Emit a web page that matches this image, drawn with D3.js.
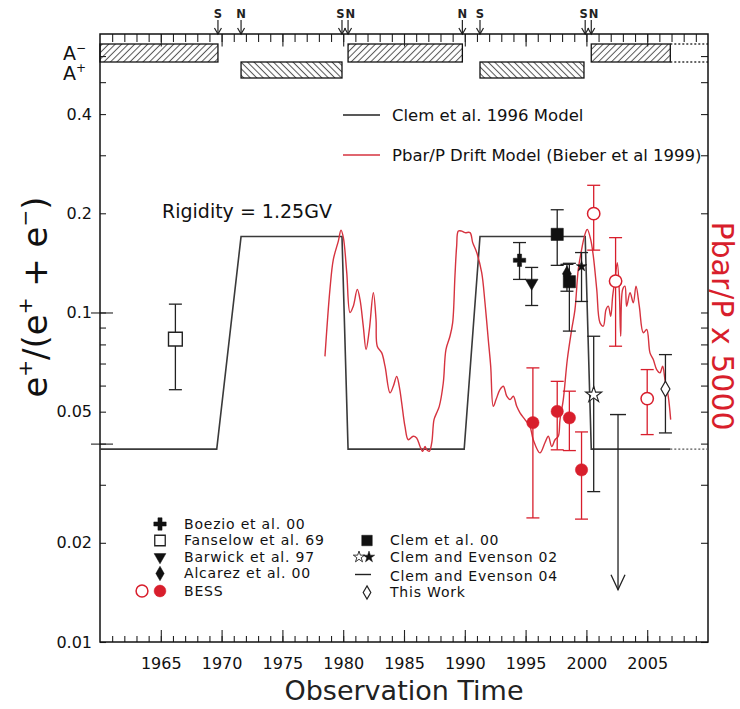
<!DOCTYPE html>
<html>
<head>
<meta charset="utf-8">
<script src="https://cdn.jsdelivr.net/npm/d3@7"></script>
<style>
  body { margin: 0; background: #fff; }
  svg { display: block; font-family: "DejaVu Sans", sans-serif; }
</style>
</head>
<body>
<svg id="chart" width="740" height="709"></svg>
<script>
// ---------- data ----------
const yearTicks = [1965, 1970, 1975, 1980, 1985, 1990, 1995, 2000, 2005];
const yTickValues = [0.01, 0.02, 0.03, 0.04, 0.05, 0.06, 0.07, 0.08, 0.09, 0.1, 0.2, 0.3, 0.4, 0.5, 0.6];
const yLabelValues = [0.01, 0.02, 0.05, 0.1, 0.2, 0.4];
const yLongTicks = [0.04, 0.1];

// Clem et al. 1996 model (step between polarity epochs)
const modelYears  = [1960, 1969.6, 1971.6, 1979.9, 1980.4, 1989.95, 1991.25, 1999.9, 2000.4, 2006.9];
const modelValues = [0.0385, 0.0385, 0.17, 0.17, 0.0385, 0.0385, 0.17, 0.17, 0.0385, 0.0385];
const modelExtYears  = [2006.9, 2010];
const modelExtValues = [0.0385, 0.0385];

// Pbar/P drift model (Bieber et al 1999), x 5000
const driftYears = [1978.50, 1978.91, 1979.19, 1979.60, 1979.82, 1980.01, 1980.29, 1980.56, 1980.83, 1981.16,
  1981.38, 1981.65, 1981.88, 1982.15, 1982.48, 1982.70, 1982.80, 1983.17, 1983.44, 1983.85,
  1984.12, 1984.40, 1984.61, 1984.81, 1985.08, 1985.35, 1985.76, 1986.04, 1986.32, 1986.54,
  1986.73, 1986.87, 1987.08, 1987.28, 1987.47, 1987.69, 1987.90, 1988.23, 1988.45, 1988.78,
  1989.00, 1989.19, 1989.33, 1989.47, 1989.75, 1990.02, 1990.43, 1990.65, 1990.98, 1991.39,
  1991.66, 1991.93, 1992.13, 1992.34, 1992.57, 1992.89, 1993.17, 1993.45, 1993.72, 1993.99,
  1994.27, 1994.54, 1994.95, 1995.36, 1995.63, 1996.18, 1996.60, 1996.87, 1997.15, 1997.42,
  1997.69, 1997.83, 1998.10, 1998.43, 1998.79, 1999.06, 1999.33, 1999.61, 1999.88, 2000.07,
  2000.35, 2000.57, 2000.85, 2001.12, 2001.39, 2001.61, 2001.80, 2002.00, 2002.16, 2002.35,
  2002.54, 2002.71, 2002.82, 2002.98, 2003.17, 2003.31, 2003.59, 2003.86, 2004.08, 2004.35,
  2004.68, 2004.96, 2005.23, 2005.50, 2005.78, 2006.05, 2006.27, 2006.46, 2006.73, 2006.93];
const driftValues = [0.0736, 0.1175, 0.1449, 0.1647, 0.1778, 0.169, 0.1323, 0.100, 0.1045, 0.1175,
  0.1095, 0.0909, 0.0772, 0.0888, 0.1148, 0.0952, 0.079, 0.0754, 0.0687, 0.057,
  0.0597, 0.064, 0.0597, 0.0532, 0.0451, 0.0411, 0.0421, 0.0416, 0.0392, 0.0379,
  0.0392, 0.0383, 0.0379, 0.0402, 0.0473, 0.0496, 0.0519, 0.0611, 0.0772, 0.0847,
  0.093, 0.129, 0.159, 0.1766, 0.1766, 0.1747, 0.1747, 0.1629, 0.152, 0.132,
  0.107, 0.0828, 0.0687, 0.0519, 0.0544, 0.0583, 0.0597, 0.0557, 0.0544, 0.0557,
  0.0519, 0.0496, 0.0473, 0.0451, 0.0411, 0.0375, 0.0403, 0.0421, 0.0392, 0.0411,
  0.0421, 0.0473, 0.0544, 0.072, 0.0888, 0.102, 0.135, 0.1554, 0.1726, 0.1787,
  0.1667, 0.1483, 0.1175, 0.093, 0.0909, 0.102, 0.1045, 0.0974, 0.1121, 0.126,
  0.1416, 0.1148, 0.0847, 0.1175, 0.1202, 0.1045, 0.1148, 0.107, 0.1202, 0.1045,
  0.0868, 0.0888, 0.0754, 0.072, 0.0671, 0.0656, 0.0687, 0.0626, 0.0557, 0.0473];

// measurements: year, value, low, high
const fanselowYears = [1966.2], fanselowValues = [0.083], fanselowLo = [0.0583], fanselowHi = [0.106];
const boezioYears = [1994.5], boezioValues = [0.144], boezioLo = [0.126], boezioHi = [0.163];
const barwickYears = [1995.5], barwickValues = [0.123], barwickLo = [0.105], barwickHi = [0.137];
const alcarazYears = [1998.4], alcarazValues = [0.131], alcarazLo = [0.116], alcarazHi = [0.14];
const clemYears = [1997.6, 1998.6], clemValues = [0.1726, 0.124], clemLo = [0.139, 0.0878], clemHi = [0.205, 0.141];
const ce02FilledYears = [1999.6], ce02FilledValues = [0.138], ce02FilledLo = [0.108], ce02FilledHi = [0.152];
const ce02OpenYears = [2000.6], ce02OpenValues = [0.0563], ce02OpenLo = [0.0286], ce02OpenHi = [0.0847];
const ce04Years = [2002.6], ce04Limits = [0.049], ce04ArrowTo = [0.0144];
const thisWorkYears = [2006.5], thisWorkValues = [0.0586], thisWorkLo = [0.0431], thisWorkHi = [0.0745];
const bessOpenYears = [2000.6, 2002.4, 2005.0], bessOpenValues = [0.1995, 0.1245, 0.0548],
      bessOpenLo = [0.1546, 0.079, 0.0426], bessOpenHi = [0.2432, 0.1687, 0.0671];
const bessFilledYears = [1995.6, 1997.6, 1998.6, 1999.6], bessFilledValues = [0.0463, 0.0501, 0.0479, 0.0333],
      bessFilledLo = [0.0238, 0.0383, 0.0381, 0.0236], bessFilledHi = [0.0679, 0.0618, 0.0577, 0.0434];

// solar magnetic polarity epochs and field reversals
const aMinusStart = [1960, 1980.4, 2000.4], aMinusEnd = [1969.7, 1989.8, 2006.9];
const aMinusOpenEnd = 2010;
const aPlusStart = [1971.6, 1991.25], aPlusEnd = [1979.9, 1999.8];
const reversalYears = [1969.7, 1971.6, 1979.9, 1980.4, 1989.8, 1991.25, 1999.9, 2000.4];
const reversalLabels = ["S", "N", "S", "N", "N", "S", "S", "N"];

// ---------- layout ----------
const W = 740, H = 709;
const margin = { top: 34, right: 32, bottom: 67, left: 100 };
const RED = "#d81e2c", CURVE = "#d6333f";

const svg = d3.select("#chart");
const x = d3.scaleLinear().domain([1960, 2010]).range([margin.left, W - margin.right]);
const y = d3.scaleLog().domain([0.01, 0.7]).range([H - margin.bottom, margin.top]);
const [x0, x1] = x.range();
const [yB, yT] = y.range();

// hatch fills for the polarity bars
const defs = svg.append("defs");
function hatch(id, angle) {
  const s = 4.6;
  const p = defs.append("pattern").attr("id", id).attr("patternUnits", "userSpaceOnUse")
    .attr("width", s).attr("height", s).attr("patternTransform", `rotate(${angle})`);
  p.append("rect").attr("width", s).attr("height", s).attr("fill", "#fff");
  p.append("line").attr("x1", s / 2).attr("x2", s / 2).attr("y1", 0).attr("y2", s)
    .attr("stroke", "#555").attr("stroke-width", 1);
}
hatch("hatchMinus", 45);
hatch("hatchPlus", -45);

// ---------- polarity strip ----------
const strip = svg.append("g");
const minusTop = 44, minusBot = 62, plusTop = 62, plusBot = 78;
strip.selectAll("rect.minus").data(aMinusStart).join("rect").attr("class", "minus")
  .attr("x", (d) => x(d)).attr("width", (d, i) => x(aMinusEnd[i]) - x(d))
  .attr("y", minusTop).attr("height", minusBot - minusTop)
  .attr("fill", "url(#hatchMinus)").attr("stroke", "#111").attr("stroke-width", 1.3);
strip.selectAll("rect.plus").data(aPlusStart).join("rect").attr("class", "plus")
  .attr("x", (d) => x(d)).attr("width", (d, i) => x(aPlusEnd[i]) - x(d))
  .attr("y", plusTop).attr("height", plusBot - plusTop)
  .attr("fill", "url(#hatchPlus)").attr("stroke", "#111").attr("stroke-width", 1.3);
[minusTop, minusBot].forEach((yy) => {
  strip.append("line").attr("x1", x(aMinusEnd[aMinusEnd.length - 1])).attr("x2", x(aMinusOpenEnd))
    .attr("y1", yy).attr("y2", yy).attr("stroke", "#333").attr("stroke-width", 1.6)
    .attr("stroke-dasharray", "2,2");
});

// polarity labels
function polLabel(yBase, sign) {
  const t = svg.append("text").attr("x", 63).attr("y", yBase).attr("font-size", 19).attr("fill", "#111");
  t.append("tspan").text("A");
  t.append("tspan").attr("dy", -8).attr("font-size", 12).text(sign);
}
polLabel(60, "\u2212");
polLabel(80, "+");

// reversal arrows; close pairs are printed side by side ("SN")
const rev = svg.append("g");
reversalYears.forEach((yr, i) => {
  const xx = x(yr);
  rev.append("line").attr("x1", xx).attr("x2", xx).attr("y1", 20).attr("y2", yT)
    .attr("stroke", "#222").attr("stroke-width", 1.2);
  rev.append("path").attr("d", `M${xx - 3.5},${yT - 6}L${xx},${yT}L${xx + 3.5},${yT - 6}`)
    .attr("fill", "none").attr("stroke", "#222").attr("stroke-width", 1.2);
  const next = i < reversalYears.length - 1 ? x(reversalYears[i + 1]) : Infinity;
  const prev = i > 0 ? x(reversalYears[i - 1]) : -Infinity;
  let tx = xx, anchor = "middle";
  if (next - xx < 12) { tx = (xx + next) / 2 - 0.5; anchor = "end"; }
  else if (xx - prev < 12) { tx = (xx + prev) / 2 + 0.5; anchor = "start"; }
  rev.append("text").attr("x", tx).attr("y", 18).attr("text-anchor", anchor)
    .attr("font-size", 11.5).attr("font-weight", "bold").attr("fill", "#222").text(reversalLabels[i]);
});

// ---------- axes ----------
function axis(gen, tx, ty) {
  const g = svg.append("g").attr("transform", `translate(${tx},${ty})`).call(gen);
  g.select(".domain").remove();
  g.selectAll(".tick line").attr("stroke", "#222").attr("stroke-width", 1.1);
  g.selectAll(".tick text").attr("fill", "#111").attr("font-family", "DejaVu Sans, sans-serif");
  return g;
}
const minorYears = d3.range(1961, 2010);
const majorYears = d3.range(1965, 2010, 5);

axis(d3.axisBottom(x).tickValues(minorYears).tickSize(-6).tickFormat(() => ""), 0, yB);
axis(d3.axisBottom(x).tickValues(majorYears).tickSize(-12).tickPadding(16)
  .tickFormat((d) => yearTicks.includes(d) ? String(d) : ""), 0, yB)
  .selectAll(".tick text").attr("font-size", 16);
axis(d3.axisTop(x).tickValues(minorYears).tickSize(-8).tickFormat(() => ""), 0, yT);
axis(d3.axisTop(x).tickValues(majorYears).tickSize(-12.5).tickFormat(() => ""), 0, yT);

axis(d3.axisLeft(y).tickValues(yTickValues).tickSize(-6).tickPadding(8)
  .tickFormat((d) => yLabelValues.includes(d) ? String(d) : ""), x0, 0)
  .selectAll(".tick text").attr("font-size", 16);
axis(d3.axisLeft(y).tickValues(yLongTicks).tickSize(-13).tickFormat(() => ""), x0, 0);
axis(d3.axisLeft(y).tickValues(yLongTicks).tickSize(9).tickFormat(() => ""), x0, 0);
axis(d3.axisRight(y).tickValues(yTickValues).tickSize(-7).tickFormat(() => ""), x1, 0);

svg.append("rect").attr("x", x0).attr("y", yT).attr("width", x1 - x0).attr("height", yB - yT)
  .attr("fill", "none").attr("stroke", "#111").attr("stroke-width", 1.5);

// ---------- model curves ----------
const line = d3.line().x((d) => x(d[0])).y((d) => y(d[1]));
svg.append("path").datum(d3.zip(modelYears, modelValues)).attr("d", line)
  .attr("fill", "none").attr("stroke", "#3a3a3a").attr("stroke-width", 1.6);
svg.append("path").datum(d3.zip(modelExtYears, modelExtValues)).attr("d", line)
  .attr("fill", "none").attr("stroke", "#555").attr("stroke-width", 1.4).attr("stroke-dasharray", "2,2");

const smooth = d3.line().x((d) => x(d[0])).y((d) => y(d[1])).curve(d3.curveCatmullRom.alpha(0.5));
svg.append("path").datum(d3.zip(driftYears, driftValues)).attr("d", smooth)
  .attr("fill", "none").attr("stroke", CURVE).attr("stroke-width", 1.4);

// ---------- measurements ----------
const pts = svg.append("g");
function errorBars(years, lo, hi, color) {
  years.forEach((yr, i) => {
    const xx = x(yr);
    pts.append("line").attr("x1", xx).attr("x2", xx).attr("y1", y(lo[i])).attr("y2", y(hi[i]))
      .attr("stroke", color).attr("stroke-width", 1.3);
    [lo[i], hi[i]].forEach((v) => {
      pts.append("line").attr("x1", xx - 6.5).attr("x2", xx + 6.5).attr("y1", y(v)).attr("y2", y(v))
        .attr("stroke", color).attr("stroke-width", 1.3);
    });
  });
}
function markers(g, years, values, type, size, fill, stroke, rot = 0, sw = 1.4) {
  years.forEach((yr, i) => {
    g.append("path").attr("d", d3.symbol().type(type).size(size)())
      .attr("transform", `translate(${x(yr)},${y(values[i])}) rotate(${rot})`)
      .attr("fill", fill).attr("stroke", stroke).attr("stroke-width", sw);
  });
}

errorBars(fanselowYears, fanselowLo, fanselowHi, "#222");
errorBars(boezioYears, boezioLo, boezioHi, "#222");
errorBars(barwickYears, barwickLo, barwickHi, "#222");
errorBars(alcarazYears, alcarazLo, alcarazHi, "#222");
errorBars(clemYears, clemLo, clemHi, "#222");
errorBars(ce02FilledYears, ce02FilledLo, ce02FilledHi, "#222");
errorBars(ce02OpenYears, ce02OpenLo, ce02OpenHi, "#222");
errorBars(thisWorkYears, thisWorkLo, thisWorkHi, "#222");
errorBars(bessOpenYears, bessOpenLo, bessOpenHi, RED);
errorBars(bessFilledYears, bessFilledLo, bessFilledHi, RED);

// upper limit with arrow
ce04Years.forEach((yr, i) => {
  const xx = x(yr), yTop = y(ce04Limits[i]), yEnd = y(ce04ArrowTo[i]);
  pts.append("line").attr("x1", xx - 8).attr("x2", xx + 8).attr("y1", yTop).attr("y2", yTop)
    .attr("stroke", "#222").attr("stroke-width", 1.4);
  pts.append("line").attr("x1", xx).attr("x2", xx).attr("y1", yTop).attr("y2", yEnd)
    .attr("stroke", "#222").attr("stroke-width", 1.3);
  pts.append("path").attr("d", `M${xx - 7},${yEnd - 15}L${xx},${yEnd}L${xx + 7},${yEnd - 15}`)
    .attr("fill", "none").attr("stroke", "#222").attr("stroke-width", 1.3);
});

markers(pts, fanselowYears, fanselowValues, d3.symbolSquare, 190, "#fff", "#222");
markers(pts, boezioYears, boezioValues, d3.symbolCross, 85, "#111", "#111", 0, 0.5);
markers(pts, barwickYears, barwickValues, d3.symbolTriangle, 70, "#111", "#111", 180, 0.5);
markers(pts, clemYears, clemValues, d3.symbolSquare, 150, "#111", "#111", 0, 0.5);
markers(pts, alcarazYears, alcarazValues, d3.symbolDiamond, 70, "#111", "#111", 0, 0.5);
markers(pts, ce02FilledYears, ce02FilledValues, d3.symbolStar, 35, "#111", "#111", 0, 0.5);
markers(pts, ce02OpenYears, ce02OpenValues, d3.symbolStar, 80, "#fff", "#222", 0, 1.1);
markers(pts, thisWorkYears, thisWorkValues, d3.symbolDiamond, 70, "#fff", "#222", 0, 1.2);
markers(pts, bessOpenYears, bessOpenValues, d3.symbolCircle, 120, "#fff", RED, 0, 1.5);
markers(pts, bessFilledYears, bessFilledValues, d3.symbolCircle, 120, RED, RED, 0, 0.5);

// ---------- text ----------
svg.append("text").attr("x", 162).attr("y", 218).attr("font-size", 19).attr("fill", "#111")
  .text("Rigidity = 1.25GV");

// model legend
const legTop = [
  { label: "Clem et al. 1996 Model", color: "#222", yy: 115 },
  { label: "Pbar/P Drift Model (Bieber et al 1999)", color: CURVE, yy: 155 }
];
legTop.forEach((d) => {
  svg.append("line").attr("x1", 343).attr("x2", 380).attr("y1", d.yy).attr("y2", d.yy)
    .attr("stroke", d.color).attr("stroke-width", 1.5);
  svg.append("text").attr("x", 392).attr("y", d.yy).attr("dy", "0.35em").attr("font-size", 16.5)
    .attr("fill", "#111").text(d.label);
});

// data legend
const lg = svg.append("g");
function legText(xx, yy, label) {
  lg.append("text").attr("x", xx).attr("y", yy).attr("dy", "0.35em").attr("font-size", 14)
    .attr("letter-spacing", 0.8).attr("fill", "#111").text(label);
}
function legSym(xx, yy, type, size, fill, stroke, rot = 0, sw = 1.3) {
  lg.append("path").attr("d", d3.symbol().type(type).size(size)())
    .attr("transform", `translate(${xx},${yy}) rotate(${rot})`)
    .attr("fill", fill).attr("stroke", stroke).attr("stroke-width", sw);
}
const rowL = [524, 540.5, 557, 573.5, 591];
legSym(160, rowL[0], d3.symbolCross, 85, "#111", "#111", 0, 0.5);
legText(184, rowL[0], "Boezio et al. 00");
legSym(160, rowL[1], d3.symbolSquare, 110, "#fff", "#222", 0, 1.3);
legText(184, rowL[1], "Fanselow et al. 69");
legSym(160, rowL[2], d3.symbolTriangle, 60, "#111", "#111", 180, 0.5);
legText(184, rowL[2], "Barwick et al. 97");
legSym(160, rowL[3], d3.symbolDiamond, 60, "#111", "#111", 0, 0.5);
legText(184, rowL[3], "Alcarez et al. 00");
legSym(142, rowL[4], d3.symbolCircle, 110, "#fff", RED, 0, 1.5);
legSym(160, rowL[4], d3.symbolCircle, 110, RED, RED, 0, 0.5);
legText(184, rowL[4], "BESS");

const rowR = [540.5, 557, 576, 592.5];
legSym(367, rowR[0], d3.symbolSquare, 110, "#111", "#111", 0, 0.5);
legText(390, rowR[0], "Clem et al. 00");
legSym(359, rowR[1], d3.symbolStar, 40, "#fff", "#222", 0, 0.9);
legSym(369, rowR[1], d3.symbolStar, 40, "#111", "#111", 0, 0.5);
legText(390, rowR[1], "Clem and Evenson 02");
lg.append("line").attr("x1", 355).attr("x2", 371).attr("y1", rowR[2] - 1.5).attr("y2", rowR[2] - 1.5)
  .attr("stroke", "#222").attr("stroke-width", 1.4);
legText(390, rowR[2], "Clem and Evenson 04");
legSym(367, rowR[3], d3.symbolDiamond, 50, "#fff", "#222", 0, 1.2);
legText(390, rowR[3], "This Work");

// axis titles
svg.append("text").attr("x", 404).attr("y", 700).attr("text-anchor", "middle")
  .attr("font-size", 27).attr("fill", "#222").text("Observation Time");

const yl = svg.append("text").attr("transform", "translate(47,297) rotate(-90)")
  .attr("text-anchor", "middle").attr("font-size", 34).attr("fill", "#111");
yl.append("tspan").text("e");
yl.append("tspan").attr("dy", -15).attr("font-size", 20).text("+");
yl.append("tspan").attr("dy", 15).text("/(e");
yl.append("tspan").attr("dy", -15).attr("font-size", 20).text("+");
yl.append("tspan").attr("dy", 15).text(" + e");
yl.append("tspan").attr("dy", -15).attr("font-size", 20).text("\u2212");
yl.append("tspan").attr("dy", 15).text(")");

svg.append("text").attr("transform", "translate(712,326) rotate(90)")
  .attr("text-anchor", "middle").attr("font-size", 30).attr("fill", RED).text("Pbar/P x 5000");
</script>
</body>
</html>
